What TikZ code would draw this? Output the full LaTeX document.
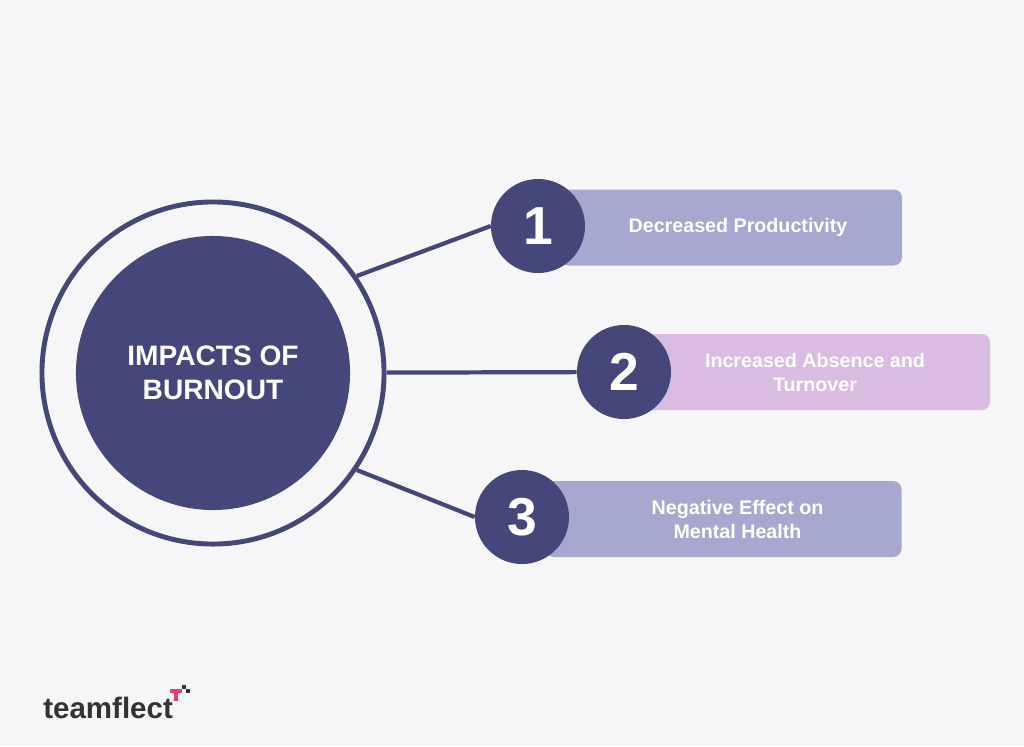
\documentclass[tikz,border=0pt]{standalone}
\usepackage{fontspec}
\setmainfont{Liberation Sans}
\usetikzlibrary{positioning}
\definecolor{navy}{HTML}{45467A}
\definecolor{bgcol}{HTML}{F6F5F8}
\definecolor{boxblue}{HTML}{A6A8D0}
\definecolor{boxpink}{HTML}{DABBE2}
\definecolor{logored}{HTML}{E8426A}
\tikzset{
  itembox/.style={rectangle, rounded corners=6pt, minimum height=1.9cm, text=white, font=\bfseries\fontsize{14}{17}\selectfont, align=center},
  numcirc/.style={circle, fill=navy, minimum size=2.35cm, text=white, font=\bfseries\fontsize{38}{38}\selectfont, inner sep=0pt},
  link/.style={draw=navy, line width=3pt}
}
\begin{document}
\begin{tikzpicture}[x=0.025cm, y=-0.025cm]
  \fill[bgcol] (0,0) rectangle (1024,746);
  \useasboundingbox (0,0) rectangle (1024,746);
  % centre
  \node[circle, draw=navy, line width=3.5pt, fill=bgcol, minimum size=8.55cm] (outer) at (213,373) {};
  \node[circle, fill=navy, minimum size=6.85cm, text=white, align=center, font=\bfseries\fontsize{20}{24}\selectfont] (centre) at (213,373) {IMPACTS OF\\BURNOUT};
  % boxes
  \node[itembox, fill=boxblue, minimum width=8.55cm] (box1) at (731,227.5) {\hspace*{0.35cm}Decreased Productivity};
  \node[itembox, fill=boxpink, minimum width=8.75cm] (box2) at (815,372) {Increased Absence and\\Turnover};
  \node[itembox, fill=boxblue, minimum width=8.9cm] (box3) at (723.5,519) {\hspace*{0.7cm}Negative Effect on\\\hspace*{0.7cm}Mental Health};
  % numbers
  \node[numcirc] (n1) at (538,226) {1};
  \node[numcirc] (n2) at (624,372) {2};
  \node[numcirc] (n3) at (522,517) {3};
  % links
  \path[link] (outer.34) -- (n1.west);
  \path[link] (outer) -- (n2);
  \path[link] (outer.-34) -- (n3.west);
  % logo
  \node[anchor=base west, font=\bfseries\fontsize{21}{21}\selectfont, text=black!80, inner sep=0pt] (logo) at (43,718) {teamflect};
  \fill[black!80] (182,685) rectangle (186,689);
  \fill[logored] (170,689) rectangle (182,693);
  \fill[logored] (174,689) rectangle (178,701);
  \fill[black!80] (186,689) rectangle (190,693);
\end{tikzpicture}
\end{document}
